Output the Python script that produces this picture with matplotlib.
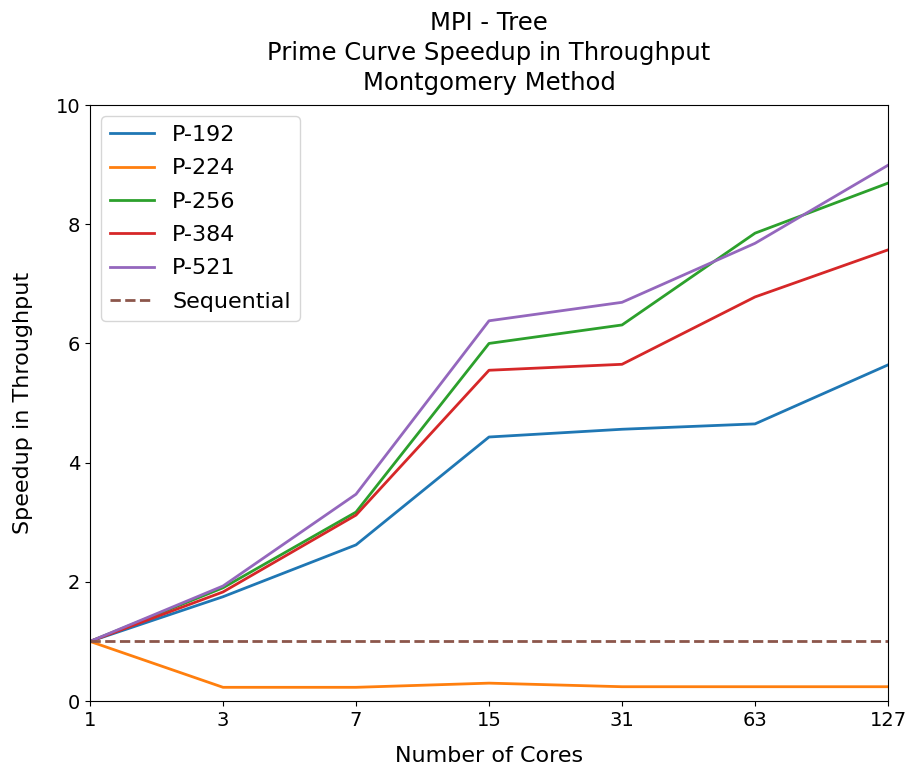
import numpy as np
import matplotlib
matplotlib.use("Agg")
import matplotlib.pyplot as plt

cores = ["1", "3", "7", "15", "31", "63", "127"]
p192 = [1.0, 1.75, 2.62, 4.43, 4.56, 4.65, 5.64]
p224 = [1.0, 0.23, 0.23, 0.30, 0.24, 0.24, 0.24]
p256 = [1.0, 1.90, 3.17, 6.00, 6.31, 7.85, 8.69]
p384 = [1.0, 1.83, 3.12, 5.55, 5.65, 6.78, 7.57]
p521 = [1.0, 1.93, 3.47, 6.38, 6.69, 7.68, 8.99]
sequential = [1.0] * len(cores)

plt.rcParams['font.size'] = 14

fig = plt.figure(figsize=(9.12, 7.69), dpi=100)
ax = fig.add_axes([0.0987, 0.0884, 0.875, 0.775])

x = np.arange(len(cores))
ax.plot(x, p192, label="P-192", lw=2)
ax.plot(x, p224, label="P-224", lw=2)
ax.plot(x, p256, label="P-256", lw=2)
ax.plot(x, p384, label="P-384", lw=2)
ax.plot(x, p521, label="P-521", lw=2)
ax.plot(x, sequential, "--", label="Sequential", lw=2)

ax.set_xticks(x)
ax.set_xticklabels(cores)
ax.set_xlim(0, len(cores) - 1)
ax.set_ylim(0, 10)
ax.tick_params(labelsize=14)
ax.set_xlabel("Number of Cores", fontsize=16, labelpad=12)
ax.set_ylabel("Speedup in Throughput", fontsize=16, labelpad=16)
ax.set_title("MPI - Tree\nPrime Curve Speedup in Throughput\nMontgomery Method",
             fontsize=17.5, pad=11, linespacing=1.32)
ax.legend(loc="upper left", fontsize=16, labelspacing=0.6)

fig.savefig("out.png", dpi=100)
